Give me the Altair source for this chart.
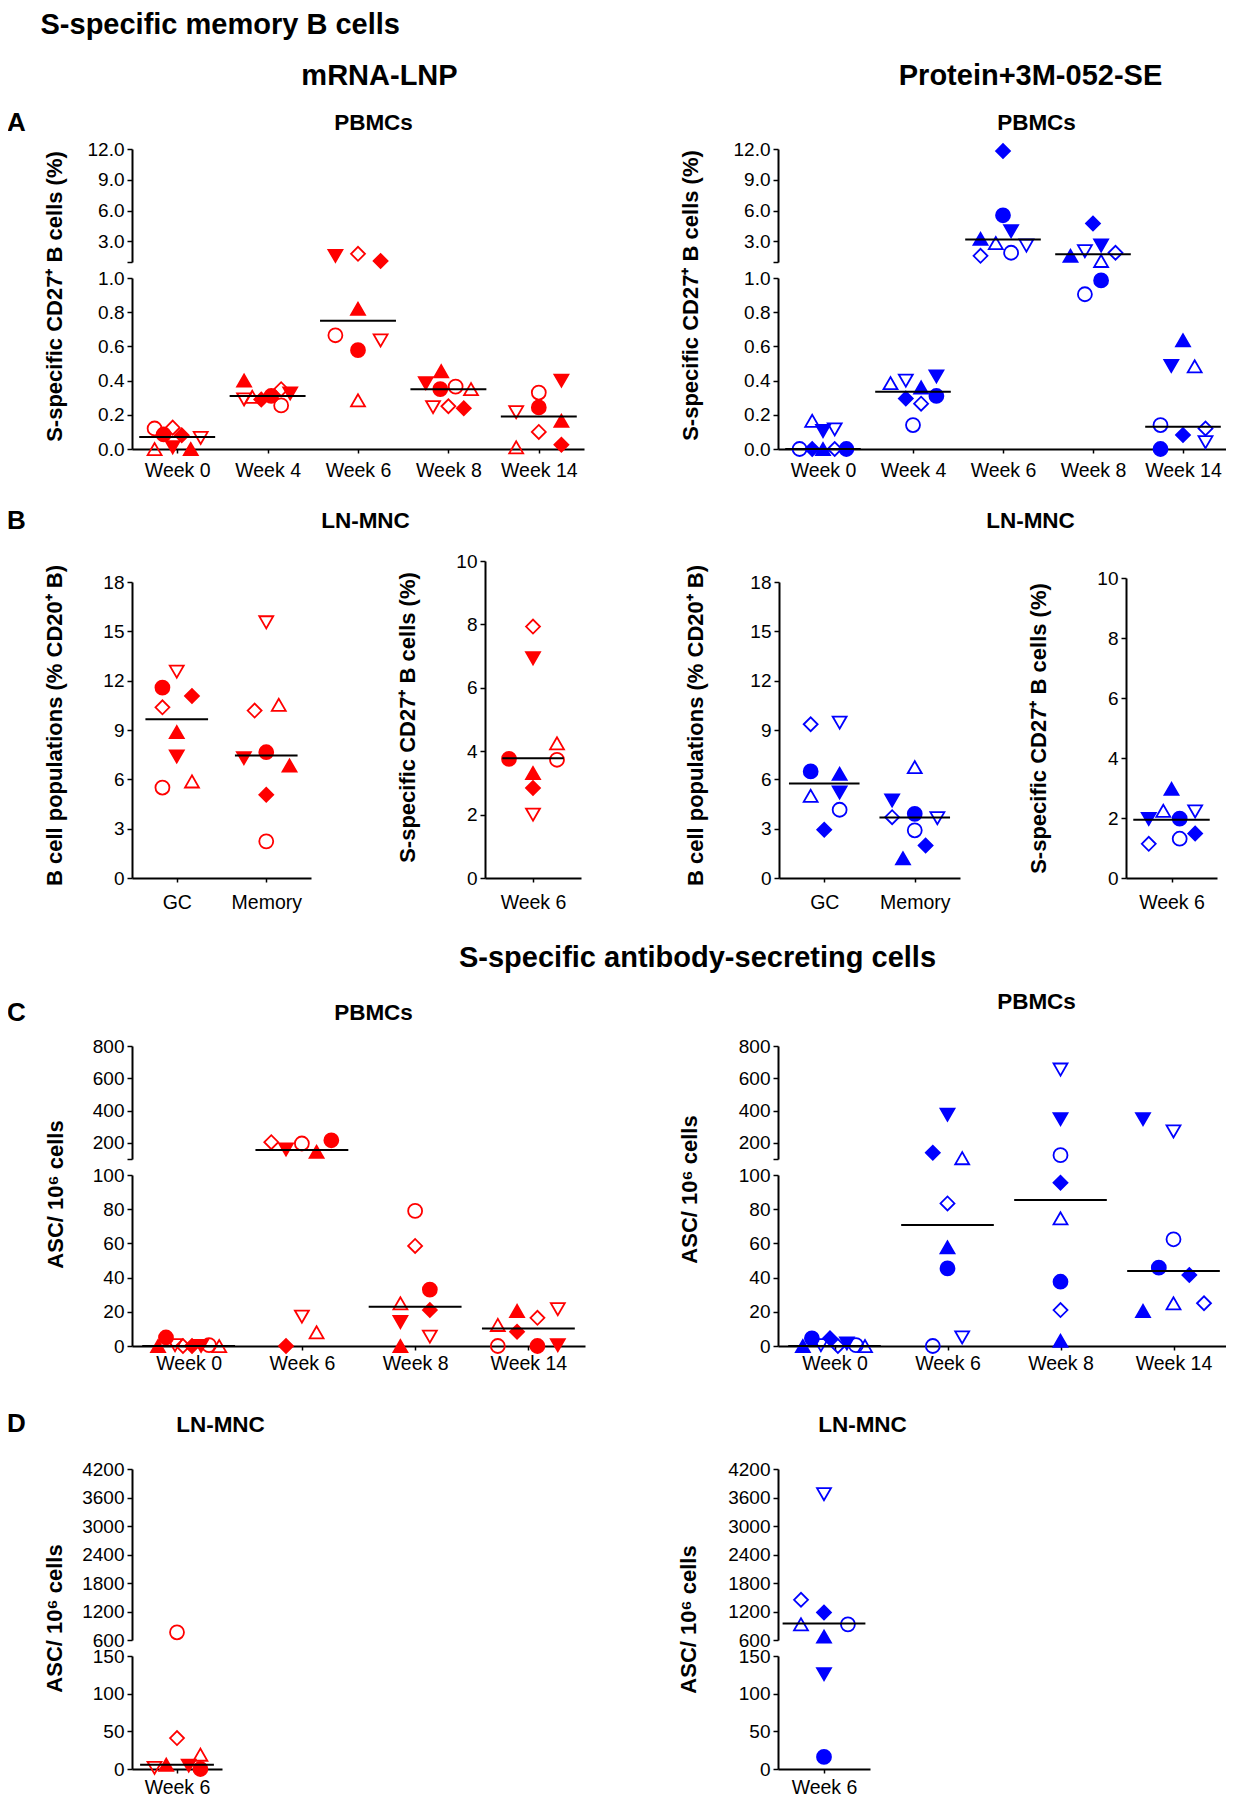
import altair as alt
import pandas as pd

# ---------------------------------------------------------------- data ----
# animal order used in every value / jitter list below
ANIMALS = ["fc", "oc", "ftu", "otu", "ftd", "otd", "fd", "od"]

weeks_mbc = ["Week 0", "Week 4", "Week 6", "Week 8", "Week 14"]
weeks_asc = ["Week 0", "Week 6", "Week 8", "Week 14"]
ln_pops = ["GC", "Memory"]
ln_week = ["Week 6"]

# A: S-specific CD27+ B cells (%) in PBMCs
mbc_mrna_vals = [
    [0.085, 0.12, 0.0, 0.0, 0.01, 0.065, 0.08, 0.125],
    [0.31, 0.255, 0.40, 0.305, 0.325, 0.29, 0.29, 0.35],
    [0.578, 0.665, 0.82, 0.285, 1.6, 0.635, 1.1, 1.8],
    [0.35, 0.365, 0.455, 0.35, 0.385, 0.245, 0.238, 0.25],
    [0.243, 0.33, 0.165, 0.01, 0.40, 0.215, 0.025, 0.10],
]
mbc_mrna_jit = [
    [-0.15, -0.25, 0.15, -0.25, -0.05, 0.26, 0.05, -0.05],
    [0.04, 0.15, -0.26, -0.17, 0.25, -0.26, -0.07, 0.15],
    [0.0, -0.25, 0.0, 0.0, -0.25, 0.25, 0.25, 0.0],
    [-0.09, 0.08, -0.08, 0.25, -0.25, -0.17, 0.17, 0.0],
    [0.0, 0.0, 0.25, -0.25, 0.25, -0.25, 0.25, 0.0],
]
mbc_mrna_med = [0.07, 0.31, 0.75, 0.35, 0.19]

mbc_prot_vals = [
    [0.0, 0.0, 0.0, 0.165, 0.105, 0.115, 0.0, 0.0],
    [0.31, 0.14, 0.36, 0.385, 0.425, 0.40, 0.295, 0.265],
    [5.55, 1.9, 3.25, 2.85, 4.0, 2.6, 11.8, 1.6],
    [0.986, 0.905, 1.6, 1.1, 2.6, 2.05, 4.75, 1.9],
    [0.0, 0.14, 0.636, 0.484, 0.486, 0.04, 0.082, 0.12],
]
mbc_prot_jit = [
    [0.26, -0.26, 0.0, -0.12, 0.0, 0.13, -0.12, 0.13],
    [0.26, 0.0, 0.09, -0.25, 0.26, -0.08, -0.08, 0.09],
    [0.0, 0.09, -0.25, -0.08, 0.09, 0.26, 0.0, -0.25],
    [0.09, -0.09, -0.25, 0.09, 0.09, -0.09, 0.0, 0.25],
    [-0.25, -0.25, 0.0, 0.13, -0.13, 0.25, 0.0, 0.25],
]
mbc_prot_med = [0.0, 0.335, 3.2, 1.75, 0.13]

# B: LN-MNC
ln_pop_mrna_vals = [
    [11.58, 5.5, 8.87, 5.87, 7.39, 12.55, 11.07, 10.38],
    [7.65, 2.23, 6.84, 10.53, 7.29, 15.55, 5.06, 10.18],
]
ln_pop_mrna_jit = [
    [-0.16, -0.16, 0.0, 0.17, 0.0, 0.0, 0.17, -0.16],
    [0.0, 0.0, 0.26, 0.14, -0.25, 0.0, 0.0, -0.13],
]
ln_pop_mrna_med = [9.66, 7.45]

ln_s_mrna_vals = [[3.76, 3.73, 3.31, 4.25, 6.93, 2.0, 2.84, 7.93]]
ln_s_mrna_jit = [[-0.25, 0.25, 0.0, 0.25, 0.0, 0.0, 0.0, 0.0]]
ln_s_mrna_med = [3.78]

ln_pop_prot_vals = [
    [6.48, 4.15, 6.34, 5.0, 5.2, 9.45, 2.94, 9.35],
    [3.9, 2.9, 1.2, 6.74, 4.72, 3.64, 1.98, 3.7],
]
ln_pop_prot_jit = [
    [-0.15, 0.17, 0.17, -0.15, 0.17, 0.17, 0.0, -0.15],
    [0.0, 0.0, -0.13, 0.0, -0.25, 0.25, 0.12, -0.25],
]
ln_pop_prot_med = [5.75, 3.68]

ln_s_prot_vals = [[1.98, 1.31, 2.97, 2.24, 1.97, 2.22, 1.48, 1.14]]
ln_s_prot_jit = [[0.09, 0.09, 0.0, -0.09, -0.25, 0.26, 0.26, -0.25]]
ln_s_prot_med = [1.94]

# C: ASC / 10^6 cells in PBMCs
asc_mrna_vals = [
    [5, 0.5, 0, 0, 0, 0.5, 0, 0],
    [216, 196, 145, 8, 159, 17.2, 0, 204],
    [33, 79, 0, 25, 14, 5.5, 21, 58.5],
    [0, 0, 20.5, 12.3, 0.5, 21.5, 8.4, 16.5],
]
asc_mrna_jit = [
    [-0.2, 0.18, -0.27, 0.27, 0.11, -0.12, 0.03, -0.05],
    [0.26, 0.0, 0.13, 0.13, -0.14, 0.0, -0.14, -0.27],
    [0.13, 0.0, -0.13, -0.13, -0.13, 0.13, 0.13, 0.0],
    [0.08, -0.27, -0.1, -0.27, 0.26, 0.26, -0.1, 0.08],
]
asc_mrna_med = [0, 155, 23, 10.3]

asc_prot_vals = [
    [4.5, 0.5, 0, 0, 1.5, 0.5, 4.5, 0],
    [45.4, 0, 57.7, 105, 374, 5, 139, 83.4],
    [37.6, 124, 3, 74.7, 347, 654, 95.5, 21],
    [45.8, 62.4, 20.5, 25, 347, 271, 41.5, 25],
]
asc_prot_jit = [
    [-0.2, 0.19, -0.28, 0.27, 0.11, -0.12, -0.04, 0.03],
    [0.0, -0.13, 0.0, 0.13, 0.0, 0.13, -0.13, 0.0],
    [0.0, 0.0, 0.0, 0.0, 0.0, 0.0, 0.0, 0.0],
    [-0.13, 0.0, -0.27, 0.0, -0.27, 0.0, 0.14, 0.27],
]
asc_prot_med = [0, 70.8, 85.4, 43.9]

# D: ASC / 10^6 cells in LN-MNC
asc_ln_mrna_vals = [[0, 762, 5.7, 19, 4.5, 1.5, None, 41]]
asc_ln_mrna_jit = [[0.26, 0.0, -0.12, 0.26, 0.13, -0.25, 0.0, 0.0]]
asc_ln_mrna_med = [5.7]

asc_ln_prot_vals = [[16, 930, 670, 930, 126, 3670, 1180, 1447]]
asc_ln_prot_jit = [[0.0, 0.26, 0.0, -0.25, 0.0, 0.0, 0.0, -0.25]]
asc_ln_prot_med = [945]

# ---------------------------------------------------------------- style ---
RED, BLUE = "#FF0000", "#0000FF"
FONT = "Liberation Sans"
MARGIN = 8
VIEW_W, VIEW_H = 1234 - 2 * MARGIN, 1800 - MARGIN
SHAPE_OF = {"fc": "circle", "oc": "circle", "ftu": "triangle-up", "otu": "triangle-up",
            "ftd": "triangle-down", "otd": "triangle-down", "fd": "diamond", "od": "diamond"}
FILLED = {"fc": True, "oc": False, "ftu": True, "otu": False,
          "ftd": True, "otd": False, "fd": True, "od": False}
YT_MBC = "S-specific CD27\u207a B cells (%)"
YT_POP = "B cell populations (% CD20\u207a B)"
YT_ASC = "ASC/ 10\u2076 cells"
H1, H2, H3, HL = 29, 29, 22.5, 26


def xtitle_kw(spec, origin_y):
    text, tx, ty, size, align = spec
    return dict(title=text, titleX=tx - MARGIN, titleY=ty - origin_y, titleFont=FONT,
                titleFontSize=size, titleFontWeight="bold", titleColor="black",
                titleAlign=align, titleBaseline="middle", titleAngle=0)


def panel(cats, values, jitter, medians, color, axis_x, width, half, segs, label_pad):
    n = len(cats)
    rows = []
    for ci in range(n):
        for a, v, j in zip(ANIMALS, values[ci], jitter[ci]):
            if v is None:
                continue
            rows.append({"pos": ci + j, "val": v, "shp": SHAPE_OF[a],
                         "fillc": color if FILLED[a] else "transparent", "strokec": color})
    pts = pd.DataFrame(rows)
    meds = pd.DataFrame({"x1": [i - half for i in range(n)],
                         "x2": [i + half for i in range(n)], "med": medians})
    xs = alt.Scale(domain=[-0.5, n - 0.5],
                   range=[axis_x - MARGIN, axis_x - MARGIN + width], nice=False, zero=False)
    label_expr = "[" + ",".join("'%s'" % c for c in cats) + "][datum.value]"
    layers = []
    for k, seg in enumerate(segs):
        lo_cut = segs[k - 1]["hi"] if k > 0 else None
        hi_cut = seg["hi"] if k < len(segs) - 1 else None

        def sel(df, col):
            m = pd.Series(True, index=df.index)
            if lo_cut is not None:
                m &= df[col] > lo_cut
            if hi_cut is not None:
                m &= df[col] <= hi_cut
            return df[m]

        ys = alt.Scale(domain=[seg["lo"], seg["hi"]],
                       range=[seg["bottom"] - MARGIN, seg["top"] - MARGIN], nice=False, zero=False)
        ykw = dict(orient="left", offset=-(axis_x - MARGIN), values=seg["ticks"],
                   domainColor="black", domainWidth=2, tickColor="black", tickWidth=1.5,
                   tickSize=5, labelFont=FONT, labelFontSize=19, labelColor="black",
                   labelPadding=3, labelOverlap=False, labelFlush=False, grid=False)
        if seg.get("hide") is not None:
            ykw["labelExpr"] = "datum.value == %s ? '' : format(datum.value, '%s')" % (
                seg["hide"], seg["fmt"])
        else:
            ykw["format"] = seg["fmt"]
        if seg.get("ytitle"):
            text, tx, ty = seg["ytitle"]
            ykw.update(title=text, titleX=tx - axis_x, titleY=ty - MARGIN, titleFont=FONT,
                       titleFontSize=22, titleFontWeight="bold", titleColor="black",
                       titleAngle=270, titleAlign="center", titleBaseline="middle")
        else:
            ykw["title"] = None
        if seg["xaxis"]:
            xkw = dict(orient="bottom", offset=(seg["bottom"] - MARGIN) - VIEW_H,
                       values=list(range(n)), labelExpr=label_expr, domainColor="black",
                       domainWidth=2, tickColor="black", tickWidth=1.5, tickSize=4,
                       labelFont=FONT, labelFontSize=19.5, labelColor="black",
                       labelPadding=label_pad, labelOverlap=False, labelFlush=False, grid=False)
            origin_y = seg["bottom"]
        else:
            xkw = dict(orient="top", offset=0, domain=False, ticks=False, labels=False,
                       grid=False, values=[0])
            origin_y = MARGIN
        if seg.get("xtitle"):
            xkw.update(xtitle_kw(seg["xtitle"], origin_y))
        else:
            xkw["title"] = None

        layers.append(
            alt.Chart(sel(pts, "val")).mark_point(filled=True, opacity=1, size=195, strokeWidth=1.8)
            .encode(x=alt.X("pos:Q", scale=xs, axis=alt.Axis(**xkw)),
                    y=alt.Y("val:Q", scale=ys, axis=alt.Axis(**ykw)),
                    shape=alt.Shape("shp:N", scale=None),
                    fill=alt.Fill("fillc:N", scale=None),
                    stroke=alt.Stroke("strokec:N", scale=None))
        )
        mseg = sel(meds, "med")
        if len(mseg):
            layers.append(
                alt.Chart(mseg).mark_rule(color="black", strokeWidth=2)
                .encode(x=alt.X("x1:Q", scale=xs, axis=None), x2="x2:Q",
                        y=alt.Y("med:Q", scale=ys, axis=None))
            )
    return layers


A_LOW_TICKS = [0, 0.2, 0.4, 0.6, 0.8, 1.0]
A_UP_TICKS = [1, 3, 6, 9, 12]
C_LOW_TICKS = [0, 20, 40, 60, 80, 100]
C_UP_TICKS = [100, 200, 400, 600, 800]
D_LOW_TICKS = [0, 50, 100, 150]
D_UP_TICKS = [600, 1200, 1800, 2400, 3000, 3600, 4200]

layers = []
# ---- A
layers += panel(weeks_mbc, mbc_mrna_vals, mbc_mrna_jit, mbc_mrna_med, RED, 132, 452, 0.42, [
    dict(lo=0, hi=1, top=278, bottom=449, ticks=A_LOW_TICKS, fmt=".1f", xaxis=True,
         xtitle=("mRNA-LNP", 379, 75, H2, "center")),
    dict(lo=1, hi=12, top=149, bottom=262, ticks=A_UP_TICKS, fmt=".1f", hide=1, xaxis=False,
         xtitle=("S-specific memory B cells", 40, 24, H1, "left"), ytitle=(YT_MBC, 54, 296)),
], 8)
layers += panel(weeks_mbc, mbc_prot_vals, mbc_prot_jit, mbc_prot_med, BLUE, 778, 450, 0.42, [
    dict(lo=0, hi=1, top=278, bottom=449, ticks=A_LOW_TICKS, fmt=".1f", xaxis=True,
         xtitle=("Protein+3M-052-SE", 1030, 75, H2, "center")),
    dict(lo=1, hi=12, top=149, bottom=262, ticks=A_UP_TICKS, fmt=".1f", hide=1, xaxis=False,
         xtitle=("PBMCs", 1036, 122, H3, "center"), ytitle=(YT_MBC, 690, 295)),
], 8)
# ---- B
layers += panel(ln_pops, ln_pop_mrna_vals, ln_pop_mrna_jit, ln_pop_mrna_med, RED, 132, 179, 0.35, [
    dict(lo=0, hi=18, top=582, bottom=878, ticks=list(range(0, 19, 3)), fmt="d", xaxis=True,
         xtitle=("LN-MNC", 365, 520, H3, "center"), ytitle=(YT_POP, 54, 725)),
], 11)
layers += panel(ln_week, ln_s_mrna_vals, ln_s_mrna_jit, ln_s_mrna_med, RED, 485, 96, 0.32, [
    dict(lo=0, hi=10, top=561, bottom=878, ticks=list(range(0, 11, 2)), fmt="d", xaxis=True,
         xtitle=("A", 16, 122, HL, "center"), ytitle=(YT_MBC, 407, 717)),
], 11)
layers += panel(ln_pops, ln_pop_prot_vals, ln_pop_prot_jit, ln_pop_prot_med, BLUE, 779, 181, 0.39, [
    dict(lo=0, hi=18, top=582, bottom=878, ticks=list(range(0, 19, 3)), fmt="d", xaxis=True,
         xtitle=("LN-MNC", 1030, 520, H3, "center"), ytitle=(YT_POP, 695, 725)),
], 11)
layers += panel(ln_week, ln_s_prot_vals, ln_s_prot_jit, ln_s_prot_med, BLUE, 1126, 91, 0.42, [
    dict(lo=0, hi=10, top=578, bottom=878, ticks=list(range(0, 11, 2)), fmt="d", xaxis=True,
         xtitle=("B", 16, 520, HL, "center"), ytitle=(YT_MBC, 1038, 728)),
], 11)
# ---- C
layers += panel(weeks_asc, asc_mrna_vals, asc_mrna_jit, asc_mrna_med, RED, 132, 453, 0.41, [
    dict(lo=0, hi=100, top=1175, bottom=1346, ticks=C_LOW_TICKS, fmt="d", xaxis=True,
         xtitle=("S-specific antibody-secreting cells", 697, 957, H1, "center")),
    dict(lo=100, hi=800, top=1046, bottom=1159, ticks=C_UP_TICKS, fmt="d", hide=100, xaxis=False,
         xtitle=("PBMCs", 373, 1012, H3, "center"), ytitle=(YT_ASC, 55, 1194)),
], 4)
layers += panel(weeks_asc, asc_prot_vals, asc_prot_jit, asc_prot_med, BLUE, 778, 452, 0.41, [
    dict(lo=0, hi=100, top=1175, bottom=1346, ticks=C_LOW_TICKS, fmt="d", xaxis=True,
         xtitle=("C", 16, 1012, HL, "center")),
    dict(lo=100, hi=800, top=1046, bottom=1159, ticks=C_UP_TICKS, fmt="d", hide=100, xaxis=False,
         xtitle=("PBMCs", 1036, 1001, H3, "center"), ytitle=(YT_ASC, 689, 1189)),
], 4)
# ---- D
layers += panel(ln_week, asc_ln_mrna_vals, asc_ln_mrna_jit, asc_ln_mrna_med, RED, 132, 90, 0.41, [
    dict(lo=0, hi=150, top=1656, bottom=1769, ticks=D_LOW_TICKS, fmt="d", xaxis=True,
         xtitle=("D", 16, 1423, HL, "center")),
    dict(lo=600, hi=4200, top=1469, bottom=1640, ticks=D_UP_TICKS, fmt="d", xaxis=False,
         xtitle=("LN-MNC", 220, 1424, H3, "center"), ytitle=(YT_ASC, 54, 1618)),
], 5)
layers += panel(ln_week, asc_ln_prot_vals, asc_ln_prot_jit, asc_ln_prot_med, BLUE, 778, 92, 0.45, [
    dict(lo=0, hi=150, top=1656, bottom=1769, ticks=D_LOW_TICKS, fmt="d", xaxis=True,
         xtitle=("PBMCs", 373, 122, H3, "center")),
    dict(lo=600, hi=4200, top=1469, bottom=1640, ticks=D_UP_TICKS, fmt="d", xaxis=False,
         xtitle=("LN-MNC", 862, 1424, H3, "center"), ytitle=(YT_ASC, 688, 1619)),
], 5)

chart = (
    alt.layer(*layers)
    .resolve_scale(x="independent", y="independent")
    .properties(width=VIEW_W, height=VIEW_H, padding=0, background="white",
                autosize=alt.AutoSizeParams(type="none"))
    .configure_view(strokeWidth=0)
    .configure_axis(grid=False)
)

chart.save("out.html", embed_options={"renderer": "svg", "actions": False})
